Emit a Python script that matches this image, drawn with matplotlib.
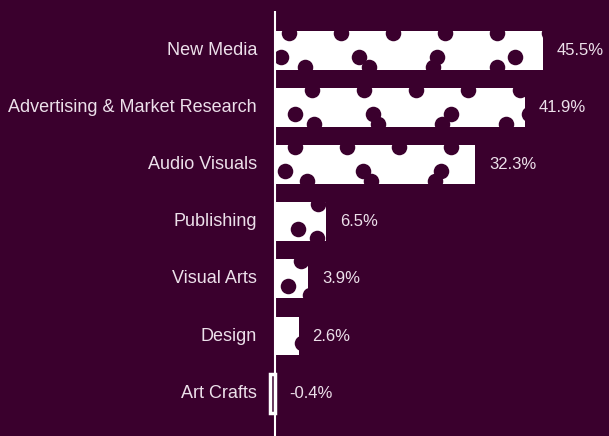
import numpy as np
import matplotlib
matplotlib.use('Agg')
from matplotlib import pyplot as plt

# --- data
categories = ['New Media', 'Advertising & Market Research', 'Audio Visuals',
              'Publishing', 'Visual Arts', 'Design', 'Art Crafts']
values = [45.5, 41.9, 32.3, 6.5, 3.9, 2.6, -0.4]
value_labels = ['45.5%', '41.9%', '32.3%', '6.5%', '3.9%', '2.6%', '-0.4%']

# --- style
bg = '#3a002d'
fg = '#ffffff'
txt = '#ece0ea'
fnt = 'Liberation Sans'
fSize = 13

# bars in the original are not linear; a mild power scale gets close
power = 0.85
def fwd(x):
    return np.sign(x) * np.abs(x) ** power
def inv(y):
    return np.sign(y) * np.abs(y) ** (1.0 / power)

ppu = 268 / fwd(45.5)  # pixels per scale unit
bar_h = 0.68

fig = plt.figure(figsize=(6.09, 4.36), dpi=100, facecolor=bg)
ax = fig.add_axes([0, 0, 1, 0.975])
ax.set_facecolor(bg)
ax.set_xscale('function', functions=(fwd, inv))
ax.set_xlim(inv(-275 / ppu), inv(334 / ppu))
ax.set_ylim(6.75, -0.69)
for s in ax.spines.values():
    s.set_visible(False)
ax.set_xticks([])
ax.set_yticks([])

ypos = np.arange(len(categories))
bars = ax.barh(ypos, values, height=bar_h, color=fg, zorder=3)

# polka dots punched out of the bars
for i, (b, v) in enumerate(zip(bars, values)):
    if v < 0:
        b.set_facecolor(bg)
        b.set_edgecolor(fg)
        b.set_linewidth(2.5)
        continue
    L = fwd(v) * ppu
    shift = (i * 23) % 40
    rows = [(-bar_h / 2 + 0.03, 14 + shift, 52),
            (0.12, 6 + shift * 0.6, 78),
            (bar_h / 2 - 0.05, 30 + shift * 0.4, 64)]
    for dy, start, step in rows:
        xs = np.arange(start, L + 8, step)
        if len(xs) == 0:
            continue
        sc = ax.scatter(inv(xs / ppu), np.full(len(xs), i + dy), s=125,
                        color=bg, lw=0, zorder=4)
        sc.set_clip_path(b)

ax.axvline(0, color=fg, lw=1.5, zorder=5)

for i, (c, v, lab) in enumerate(zip(categories, values, value_labels)):
    ax.annotate(c, xy=(0, i), xytext=(-13, 0), textcoords='offset points',
                ha='right', va='center', color=txt, fontsize=fSize, family=fnt)
    ax.annotate(lab, xy=(max(v, 0), i), xytext=(10, 0), textcoords='offset points',
                ha='left', va='center', color=txt, fontsize=12, family=fnt, zorder=2)

plt.savefig('out.png', dpi=100, facecolor=bg)
